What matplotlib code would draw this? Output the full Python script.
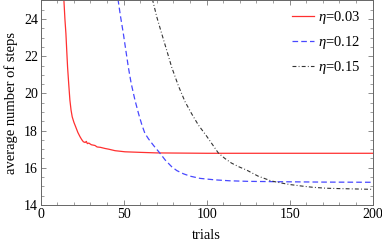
import matplotlib
matplotlib.use("Agg")
import matplotlib.pyplot as plt
import numpy as np

plt.rcParams['font.family'] = ['Liberation Serif', 'DejaVu Serif']
plt.rcParams['mathtext.fontset'] = 'custom'
plt.rcParams['mathtext.rm'] = 'Liberation Serif'
plt.rcParams['mathtext.it'] = 'Liberation Serif:italic'

# eta = 0.03 (red, solid)
t_red = [12, 14, 14.6, 15.2, 15.7, 16.2, 16.9, 17.6, 18.3, 19, 20, 21.1, 22.4, 23.7, 24.7, 25.7,
         26.8, 27.5, 28.1, 29, 30.5, 32.7, 34, 36, 38.7, 41, 44.8, 50.8, 60, 70, 85, 100, 130, 160, 200]
y_red = [28, 25, 24.0, 23.22, 22.3, 21.42, 20.5, 19.64, 19.1, 18.74, 18.45, 18.2, 17.9, 17.67, 17.52, 17.4,
         17.36, 17.42, 17.3, 17.33, 17.24, 17.2, 17.12, 17.1, 17.04, 17.0, 16.92, 16.86, 16.83, 16.8,
         16.79, 16.78, 16.78, 16.78, 16.78]

# eta = 0.12 (blue, dashed)
t_blue = [44, 46.7, 48, 49.8, 51, 52.8, 54.5, 56.8, 59, 61, 62.8, 65, 68, 71.9, 75, 78.9, 82, 85.9,
          90, 96, 105, 114, 125, 144, 170, 200]
y_blue = [26.5, 25, 24.2, 23.22, 22.5, 21.42, 20.55, 19.64, 18.9, 18.3, 17.85, 17.55, 17.2, 16.78,
          16.42, 16.06, 15.85, 15.68, 15.55, 15.43, 15.35, 15.3, 15.27, 15.25, 15.23, 15.22]

# eta = 0.15 (black, dash-dot)
t_blk = [65, 67.5, 70, 72.9, 76, 78.9, 83, 87, 91, 95, 100, 103.5, 107, 111, 115, 119.5, 124, 131,
         139, 145, 150, 157, 164, 172, 180, 190, 200]
y_blk = [26.5, 25, 24.1, 23.22, 22.3, 21.42, 20.4, 19.55, 18.9, 18.3, 17.7, 17.25, 16.8, 16.5, 16.25,
         16.05, 15.88, 15.55, 15.29, 15.18, 15.1, 15.02, 14.95, 14.9, 14.88, 14.86, 14.84]

fig = plt.figure(figsize=(3.82, 2.44), dpi=100)
ax = fig.add_axes([0.1065, 0.16, 0.869, 0.838])

ax.plot(t_red, y_red, color='#ff3030', lw=0.9, label=r'$\eta$=0.03')
ax.plot(t_blue, y_blue, color='#4848ff', lw=0.9, dashes=(4.5, 2.5), label=r'$\eta$=0.12')
ax.plot(t_blk, y_blk, color='#333333', lw=0.8, dashes=(3.5, 2, 0.8, 2), label=r'$\eta$=0.15')

ax.set_xlim(0, 200)
ax.set_ylim(14, 25)
ax.set_xticks([0, 50, 100, 150, 200])
ax.set_yticks([14, 16, 18, 20, 22, 24])
ax.set_xticks(np.arange(0, 201, 10), minor=True)
ax.set_yticks(np.arange(14, 25.01, 0.5), minor=True)
ax.tick_params(which='both', direction='in', top=True, right=True, color='#777777',
               labelsize=10, pad=2)
ax.tick_params(which='major', length=3.5, width=0.6)
ax.tick_params(which='minor', length=2, width=0.5)
for s in ax.spines.values():
    s.set_color('#666666')
    s.set_linewidth(0.7)

ax.set_xlabel('trials', fontsize=10.5, labelpad=6)
ax.set_ylabel('average number of steps', fontsize=10.5, labelpad=4)

ax.legend(loc='upper right', bbox_to_anchor=(0.99, 1.0), frameon=False, fontsize=10.5,
          handlelength=1.5, handletextpad=0.3, labelspacing=0.55, borderaxespad=0.2)

fig.savefig('out.png', dpi=100)
